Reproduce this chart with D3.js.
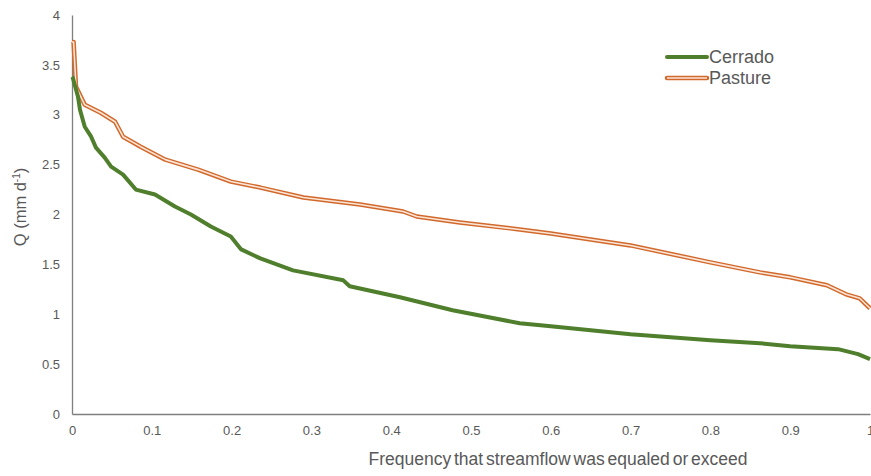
<!DOCTYPE html>
<html>
<head>
<meta charset="utf-8">
<script src="https://cdn.jsdelivr.net/npm/d3@7"></script>
<style>
  body { margin: 0; background: #fff; }
  text { font-family: "Liberation Sans", Arial, sans-serif; fill: #595959; }
</style>
</head>
<body>
<div id="chart"></div>
<script>
// Flow duration curves: frequency (x) vs Q in mm/d (y)
const cerradoX = [0, 0.001, 0.0075, 0.010, 0.016, 0.024, 0.030, 0.041, 0.049, 0.064, 0.080, 0.104, 0.129, 0.149, 0.174, 0.199, 0.212, 0.236, 0.277, 0.340, 0.348, 0.411, 0.477, 0.561, 0.600, 0.700, 0.800, 0.862, 0.900, 0.960, 0.985, 1.0];
const cerradoY = [3.38, 3.37, 3.18, 3.05, 2.88, 2.78, 2.67, 2.57, 2.48, 2.4, 2.25, 2.2, 2.08, 2.0, 1.88, 1.78, 1.65, 1.56, 1.44, 1.34, 1.28, 1.17, 1.04, 0.91, 0.88, 0.8, 0.74, 0.71, 0.68, 0.65, 0.6, 0.55];

const pastureX = [0, 0.002, 0.005, 0.016, 0.036, 0.054, 0.064, 0.086, 0.117, 0.158, 0.199, 0.236, 0.290, 0.361, 0.415, 0.432, 0.486, 0.561, 0.600, 0.700, 0.800, 0.862, 0.900, 0.946, 0.970, 0.987, 1.0];
const pastureY = [3.73, 3.73, 3.28, 3.1, 3.02, 2.93, 2.78, 2.68, 2.55, 2.45, 2.33, 2.27, 2.17, 2.1, 2.03, 1.98, 1.92, 1.85, 1.81, 1.69, 1.52, 1.42, 1.37, 1.29, 1.2, 1.16, 1.06];

const xTicks = [0, 0.1, 0.2, 0.3, 0.4, 0.5, 0.6, 0.7, 0.8, 0.9, 1];
const yTicks = [0, 0.5, 1, 1.5, 2, 2.5, 3, 3.5, 4];
const seriesNames = ["Cerrado", "Pasture"];

const width = 871;
const height = 476;
const margin = {left: 72, right: 1, top: 15, bottom: 62};

const svg = d3.select("#chart")
  .append("svg")
  .attr("width", width)
  .attr("height", height);

const x = d3.scaleLinear().domain([0, 1]).range([margin.left, width - margin.right]);
const y = d3.scaleLinear().domain([0, 4]).range([height - margin.bottom, margin.top]);

// axes
const yAxis = svg.append("g")
  .attr("transform", `translate(${margin.left},0)`)
  .call(d3.axisLeft(y).tickValues(yTicks).tickSize(0).tickPadding(12).tickFormat(d => d));
yAxis.select(".domain").attr("stroke", "#7f7f7f").attr("stroke-width", 1.3);
yAxis.selectAll("text").attr("font-size", "13px").style("fill", "#595959");

const xAxis = svg.append("g")
  .attr("transform", `translate(0,${height - margin.bottom})`)
  .call(d3.axisBottom(x).tickValues(xTicks).tickSize(0).tickPadding(12).tickFormat(d => d));
xAxis.select(".domain").attr("stroke", "#7f7f7f").attr("stroke-width", 1.3);
xAxis.selectAll("text").attr("font-size", "13px").style("fill", "#595959");

// axis titles
svg.append("text")
  .attr("x", 558).attr("y", 465)
  .attr("text-anchor", "middle")
  .attr("font-size", "17.5px")
  .attr("word-spacing", "-2px")
  .text("Frequency that streamflow was equaled or exceed");

const yt = svg.append("text")
  .attr("transform", "translate(26,207) rotate(-90)")
  .attr("text-anchor", "middle")
  .attr("font-size", "16.5px");
yt.append("tspan").text("Q (mm d");
yt.append("tspan").attr("dy", -6).attr("font-size", "10px").text("-1");
yt.append("tspan").attr("dy", 6).text(")");

const line = d3.line().x(d => x(d[0])).y(d => y(d[1]));

const cerrado = cerradoX.map((v, i) => [v, cerradoY[i]]);
const pasture = pastureX.map((v, i) => [v, pastureY[i]]);

// pasture: outlined double line
svg.append("path").datum(pasture)
  .attr("d", line).attr("fill", "none")
  .attr("stroke", "#d2692c").attr("stroke-width", 4.5).attr("stroke-linejoin", "round");
svg.append("path").datum(pasture)
  .attr("d", line).attr("fill", "none")
  .attr("stroke", "#fbe5d6").attr("stroke-width", 1.6).attr("stroke-linejoin", "round");

// cerrado
svg.append("path").datum(cerrado)
  .attr("d", line).attr("fill", "none")
  .attr("stroke", "#4f7f2c").attr("stroke-width", 4).attr("stroke-linejoin", "round");

// legend
const legend = svg.append("g").attr("transform", "translate(667,57)");
legend.append("line").attr("x1", 0).attr("x2", 40).attr("y1", 0).attr("y2", 0)
  .attr("stroke", "#4f7f2c").attr("stroke-width", 4).attr("stroke-linecap", "round");
legend.append("line").attr("x1", 0).attr("x2", 40).attr("y1", 21).attr("y2", 21)
  .attr("stroke", "#d2692c").attr("stroke-width", 4.5).attr("stroke-linecap", "round");
legend.append("line").attr("x1", 0).attr("x2", 40).attr("y1", 21).attr("y2", 21)
  .attr("stroke", "#fbe5d6").attr("stroke-width", 1.6);
legend.selectAll(".lbl")
  .data(seriesNames)
  .enter()
  .append("text")
  .attr("x", 42)
  .attr("y", (d, i) => i * 21 + 6)
  .attr("font-size", "18px")
  .text(d => d);
</script>
</body>
</html>
